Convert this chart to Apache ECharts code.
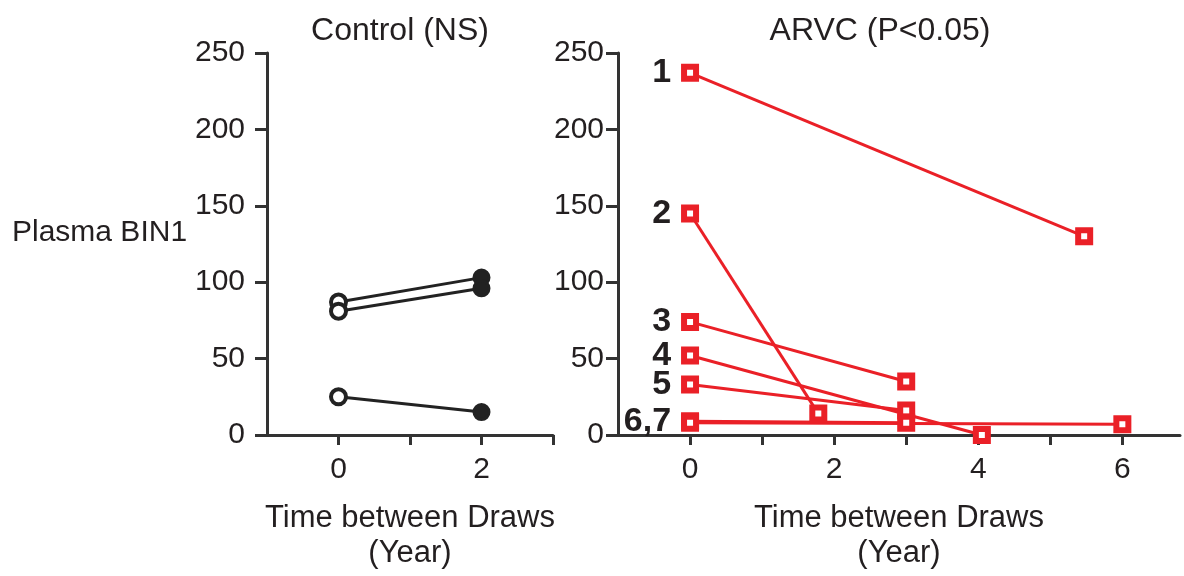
<!DOCTYPE html>
<html>
<head>
<meta charset="utf-8">
<script src="https://cdn.jsdelivr.net/npm/echarts@6/dist/echarts.min.js"></script>
<style>
    html, body { margin: 0; padding: 0; background: #fff; }
    #chart { width: 1184px; height: 576px; }
</style>
</head>
<body>
<div id="chart"></div>
<script>
// control group: two draws per subject (year 0 and year 2)
const ctrlTimes = [0, 2]
const ctrlFirst = [87, 81, 25]
const ctrlSecond = [103, 96, 15]

// ARVC group: subject label, first draw at year 0, second draw time + value
const arvcNames = ['1', '2', '3', '4', '5', '6,7', '']
const arvcFirst = [237, 145, 74, 52, 33, 9, 8]
const arvcSecondTime = [5.47, 1.78, 3, 4.05, 3, 3, 6]
const arvcSecond = [130, 14, 35, 0, 16, 8, 7]

const ctrlXLabels = [0, 2]
const arvcXLabels = [0, 2, 4, 6]

const FONT = '"Liberation Sans", Arial, sans-serif'
const AXIS_COLOR = '#333'
const RED = '#ea2027'
const TEXT = '#231f20'

const chart = echarts.init(document.getElementById('chart'))

function yAxisOpt(gridIndex, margin) {
    return {
        type: 'value',
        gridIndex: gridIndex,
        min: 0,
        max: 250,
        interval: 50,
        axisLine: { show: true, onZero: false, lineStyle: { color: AXIS_COLOR, width: 3 } },
        axisTick: { show: true, inside: false, length: 12, lineStyle: { color: AXIS_COLOR, width: 3 } },
        axisLabel: { color: TEXT, fontSize: 30, fontFamily: FONT, margin: margin },
        splitLine: { show: false },
    }
}

function xAxisOpt(gridIndex, max, tickVals, labelVals) {
    return {
        type: 'value',
        gridIndex: gridIndex,
        min: -1,
        max: max,
        interval: 1,
        axisLine: { show: true, onZero: false, lineStyle: { color: AXIS_COLOR, width: 3 } },
        axisTick: { show: true, length: 10, customValues: tickVals, lineStyle: { color: AXIS_COLOR, width: 3 } },
        axisLabel: { color: TEXT, fontSize: 30, fontFamily: FONT, margin: 20, customValues: labelVals },
        splitLine: { show: false },
        name: 'Time between Draws\n(Year)',
        nameLocation: 'middle',
        nameGap: 66,
        nameTextStyle: { color: TEXT, fontSize: 31, fontFamily: FONT, lineHeight: 35 },
    }
}

const series = []

ctrlFirst.forEach((v, i) => {
    series.push({
        type: 'line',
        xAxisIndex: 0,
        yAxisIndex: 0,
        symbol: 'circle',
        symbolSize: 15,
        lineStyle: { color: '#222', width: 3 },
        data: [
            { value: [ctrlTimes[0], v], itemStyle: { color: '#fff', borderColor: '#222', borderWidth: 4 } },
            { value: [ctrlTimes[1], ctrlSecond[i]], itemStyle: { color: '#222', borderColor: '#222', borderWidth: 3 } },
        ],
        animation: false,
        z: 3,
    })
})

arvcFirst.forEach((v, i) => {
    series.push({
        type: 'line',
        xAxisIndex: 1,
        yAxisIndex: 1,
        symbol: 'rect',
        symbolSize: 12,
        clip: false,
        itemStyle: { color: '#fff', borderColor: RED, borderWidth: 6 },
        lineStyle: { color: RED, width: 3 },
        data: [
            {
                value: [0, v],
                label: {
                    show: arvcNames[i] !== '',
                    formatter: arvcNames[i],
                    position: 'left',
                    distance: 10,
                    color: TEXT,
                    fontSize: 34,
                    fontWeight: 'bold',
                    fontFamily: FONT,
                },
            },
            { value: [arvcSecondTime[i], arvcSecond[i]] },
        ],
        animation: false,
        z: 3,
    })
})

chart.setOption({
    backgroundColor: '#fff',
    grid: [
        { left: 267, top: 53, width: 286, height: 383 },
        { left: 618, top: 53, width: 562, height: 383 },
    ],
    xAxis: [
        xAxisOpt(0, 3, [0, 1, 2, 3], ctrlXLabels),
        xAxisOpt(1, 6.8, [0, 1, 2, 3, 4, 5, 6], arvcXLabels),
    ],
    yAxis: [yAxisOpt(0, 22), yAxisOpt(1, 14)],
    graphic: [
        {
            type: 'text', x: 400, y: 31,
            style: { text: 'Control (NS)', fill: TEXT, font: '32px ' + FONT, textAlign: 'center', textVerticalAlign: 'middle' },
        },
        {
            type: 'text', x: 880, y: 31,
            style: { text: 'ARVC (P<0.05)', fill: TEXT, font: '32px ' + FONT, textAlign: 'center', textVerticalAlign: 'middle' },
        },
        {
            type: 'text', x: 12, y: 233,
            style: { text: 'Plasma BIN1', fill: TEXT, font: '30px ' + FONT, textAlign: 'left', textVerticalAlign: 'middle' },
        },
    ],
    series: series,
})
</script>
</body>
</html>
